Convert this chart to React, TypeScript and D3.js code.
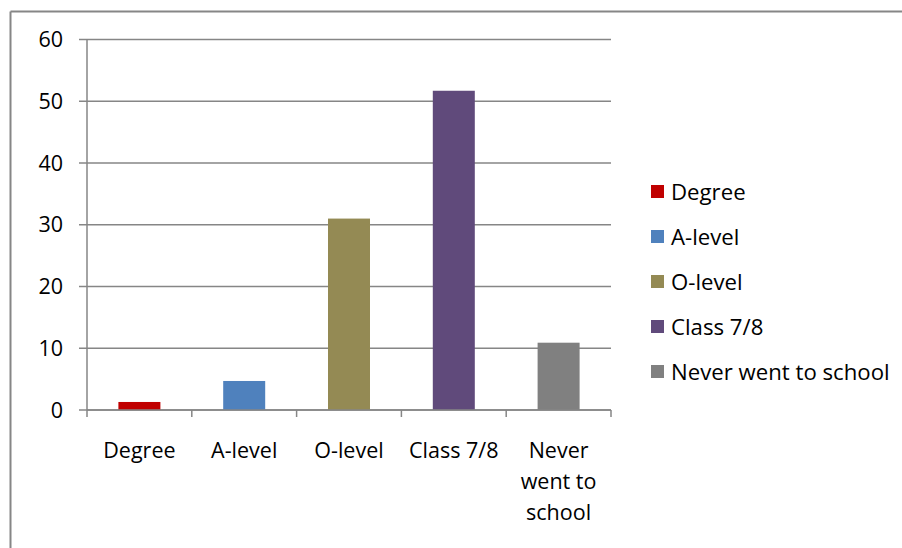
import React from "react";
import * as d3 from "d3";

const categories = ["Degree", "A-level", "O-level", "Class 7/8", "Never went to school"];
const categoryLines = [["Degree"], ["A-level"], ["O-level"], ["Class 7/8"], ["Never", "went to", "school"]];
const values = [1.3, 4.7, 31, 51.7, 10.9];
const colors = ["#C00000", "#4F81BD", "#948A54", "#604A7B", "#808080"];
const yTicks = [0, 10, 20, 30, 40, 50, 60];

const W = 902;
const H = 548;
const FONT = "'Open Sans', sans-serif";
const FS = 21.5;

export default function App() {
  const x = d3.scaleBand<string>().domain(categories).range([87, 611]).paddingInner(0).paddingOuter(0);
  const y = d3.scaleLinear().domain([0, 60]).range([410, 39.5]);
  const barW = 42;
  const grid = "#868686";

  return (
    <svg width={W} height={H} style={{ position: "absolute", left: 0, top: 0 }} fontFamily={FONT}>
      <rect x={0} y={0} width={W} height={H} fill="#fff" />
      <line x1={10.5} y1={11.5} x2={W} y2={11.5} stroke={grid} strokeWidth={2} />
      <line x1={10.5} y1={11.5} x2={10.5} y2={H} stroke={grid} strokeWidth={2} />
      {yTicks.map((t) => (
        <g key={t}>
          <line x1={79} x2={611} y1={y(t)} y2={y(t)} stroke={grid} strokeWidth={1.5} />
          <text x={63} y={y(t)} dy="0.36em" textAnchor="end" fontSize={FS} fill="#000">
            {t}
          </text>
        </g>
      ))}
      <line x1={87} x2={87} y1={y(60)} y2={y(0)} stroke={grid} strokeWidth={1.5} />
      {categories.map((c, i) => (
        <rect
          key={c}
          x={(x(c) as number) + x.bandwidth() / 2 - barW / 2}
          y={y(values[i])}
          width={barW}
          height={y(0) - y(values[i])}
          fill={colors[i]}
        />
      ))}
      <line x1={87} x2={611} y1={y(0)} y2={y(0)} stroke={grid} strokeWidth={1.5} />
      {[...categories.map((c) => x(c) as number), 611].map((px, i) => (
        <line key={i} x1={px} x2={px} y1={y(0)} y2={y(0) + 7} stroke={grid} strokeWidth={1.5} />
      ))}
      {categories.map((c, i) => (
        <text key={c} textAnchor="middle" fontSize={FS} fill="#000">
          {categoryLines[i].map((ln, j) => (
            <tspan key={j} x={(x(c) as number) + x.bandwidth() / 2} y={458 + j * 31}>
              {ln}
            </tspan>
          ))}
        </text>
      ))}
      {categories.map((c, i) => {
        const cy = 192 + i * 45;
        return (
          <g key={c}>
            <rect x={651} y={cy - 7} width={13} height={13} fill={colors[i]} />
            <text x={671} y={cy} dy="0.36em" fontSize={22.2} fill="#000">
              {c}
            </text>
          </g>
        );
      })}
    </svg>
  );
}
